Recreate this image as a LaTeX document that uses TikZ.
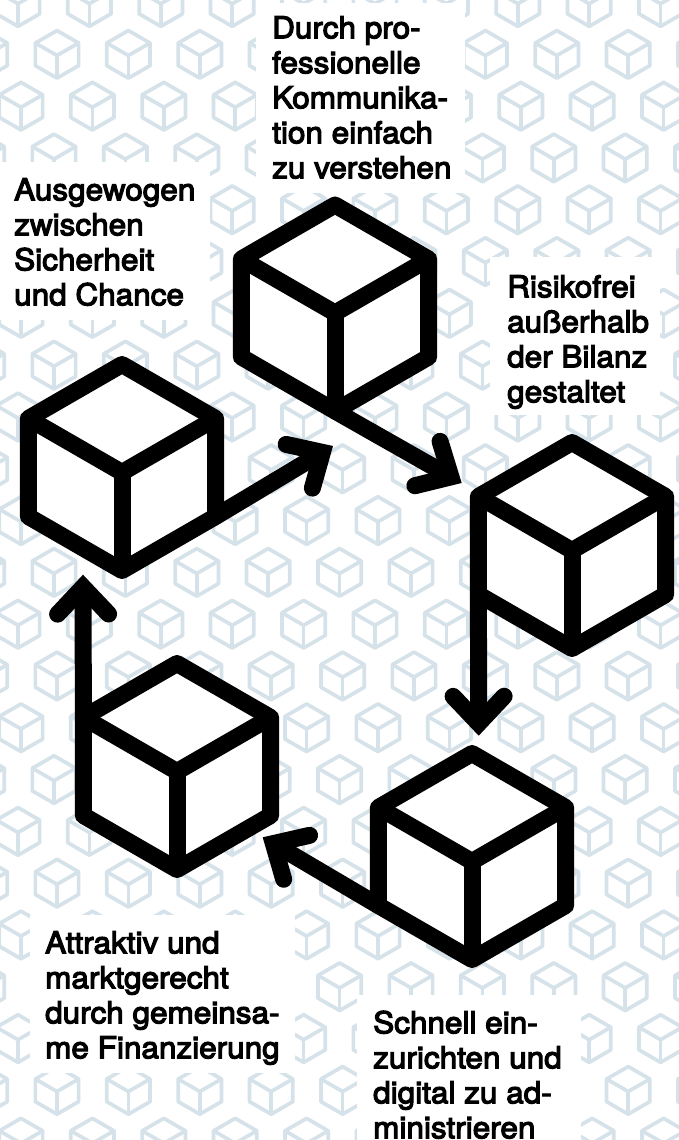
\documentclass[tikz,border=0pt]{standalone}
\usepackage{fontspec}
\setmainfont[FakeBold=4,FakeStretch=1.05]{TeX Gyre Heros}
\usetikzlibrary{arrows.meta}
\definecolor{tileblue}{HTML}{D6E2E9}
\tikzset{
  pics/cubeshape/.style={code={
    \coordinate (-f) at (0,0);
    \coordinate (-t) at (0,-108);
    \coordinate (-ul) at (-93.6,-54);
    \coordinate (-ll) at (-93.6,44);
    \coordinate (-b) at (0,98);
    \coordinate (-lr) at (93.6,44);
    \coordinate (-ur) at (93.6,-54);
    \filldraw[fill=white] (-t) -- (-ul) -- (-ll) -- (-b) -- (-lr) -- (-ur) -- cycle;
    \draw (-ul) -- (-f) -- (-ur);
    \draw (-f) -- (-b);
  }},
  tilecube/.style={color=tileblue,line width=3.7pt,line join=round,scale=0.231},
  bigcube/.style={color=black,line width=17pt,line join=round},
  flow/.style={line width=17pt,-{Straight Barb[length=27pt,width=51pt,line cap=round,line join=miter]}},
  notetext/.style={anchor=north west,inner sep=0pt,align=left,text=black,font=\fontsize{30}{35}\selectfont}
}
\begin{document}
\begin{tikzpicture}[x=1pt,y=-1pt]
  \useasboundingbox (0,0) rectangle (679,1140);
  \clip (0,0) rectangle (679,1140);
  \fill[white] (0,0) rectangle (679,1140);
  % tile rows
  \foreach \n in {-1,...,21}{
    \pgfmathsetmacro\rowx{{57,21,54,18}[mod(\n+4,4)]}
    \foreach \k in {-1,...,10}{
      \pic[tilecube] at ({\rowx+\k*71.4},{55.5+\n*51.8}) {cubeshape};
    }
  }
  % white boxes behind the texts
  \fill[white] (256,3) rectangle (465,193);
  \fill[white] (0,162) rectangle (210,320);
  \fill[white] (490,257) rectangle (660,415);
  \fill[white] (30,915) rectangle (295,1073);
  \fill[white] (357,995) rectangle (581,1140);
  % cubes
  \pic[bigcube] (topcube) at (335,313) {cubeshape};
  \pic[bigcube] (leftcube) at (122,472.5) {cubeshape};
  \pic[bigcube] (rightcube) at (572,550.5) {cubeshape};
  \pic[bigcube] (lowcube) at (472,861.5) {cubeshape};
  \pic[bigcube] (backcube) at (177,771.5) {cubeshape};
  % arrow ends
  \coordinate (toptip) at (461.7,483);
  \coordinate (righttip) at (478.7,735.7);
  \coordinate (lowtip) at (262.7,837.3);
  \coordinate (backtip) at (83,574.7);
  \coordinate (lefttip) at (333,446);
  \draw[flow] (topcube-b) -- (toptip);
  \draw[flow] (rightcube-ll) -- (righttip);
  \draw[flow] (lowcube-ll) -- (lowtip);
  \draw[flow] (backcube-ul) -- (backtip);
  \draw[flow] (leftcube-lr) -- (lefttip);
  % texts
  \node[notetext] (toptext) at (272,13.5) {\strut Durch pro-\\fessionelle\\Kommunika-\\tion einfach\\zu verstehen};
  \node[notetext] (lefttext) at (14,175.5) {\strut Ausgewogen\\zwischen\\Sicherheit\\und Chance};
  \node[notetext] (righttext) at (507,272.5) {\strut Risikofrei\\außerhalb\\der Bilanz\\gestaltet};
  \node[notetext] (backtext) at (45,928.5) {\strut Attraktiv und\\marktgerecht\\durch gemeinsa-\\me Finanzierung};
  \node[notetext] (lowtext) at (373,1008.5) {\strut Schnell ein-\\zurichten und\\digital zu ad-\\ministrieren};
\end{tikzpicture}
\end{document}
